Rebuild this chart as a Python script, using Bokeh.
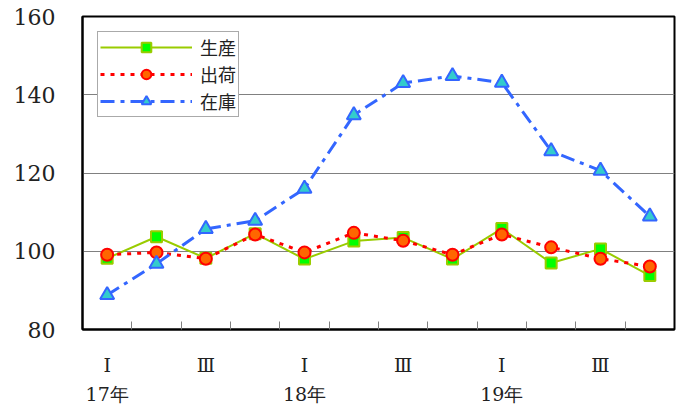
from bokeh.plotting import figure
from bokeh.models import Range1d, FixedTicker
from bokeh.embed import file_html
from bokeh.resources import INLINE

# ---- data ----
quarters = ["Ⅰ", "Ⅱ", "Ⅲ", "Ⅳ", "Ⅰ", "Ⅱ", "Ⅲ", "Ⅳ", "Ⅰ", "Ⅱ", "Ⅲ", "Ⅳ"]
years = ["17年", "", "", "", "18年", "", "", "", "19年", "", "", ""]
production = [98.2, 103.7, 98.2, 104.5, 98.0, 102.6, 103.5, 98.0, 105.8, 97.0, 100.6, 93.8]
shipments = [99.1, 99.7, 98.1, 104.3, 99.7, 104.7, 102.7, 99.1, 104.3, 101.0, 98.1, 96.1]
inventory = [88.8, 96.8, 105.7, 107.8, 116.0, 134.8, 143.0, 144.8, 143.1, 125.6, 120.6, 108.9]
y_ticks = [80, 100, 120, 140, 160]
shown_quarters = ["Ⅰ", "Ⅲ"]

x = list(range(1, len(quarters) + 1))
labels = {}
for i, (q, yr) in enumerate(zip(quarters, years)):
    if q in shown_quarters:
        labels[x[i]] = q + ("\n" + yr if yr else "")
    else:
        labels[x[i]] = ""
boundaries = [v + 0.5 for v in x[:-1]]

serif = "DejaVu Serif"

p = figure(width=676, height=408, output_backend="svg", toolbar_location=None,
           x_range=Range1d(0.5, len(x) + 0.5), y_range=Range1d(80, 160),
           min_border_left=82, min_border_top=16, min_border_right=2, min_border_bottom=76)

p.background_fill_color = "white"
p.outline_line_color = "black"
p.outline_line_width = 2

# axes
p.xaxis.ticker = FixedTicker(ticks=x, minor_ticks=boundaries)
p.xaxis.major_label_overrides = labels
p.xaxis.major_tick_in = 0
p.xaxis.major_tick_out = 0
p.xaxis.minor_tick_in = 8
p.xaxis.minor_tick_out = 0
p.xaxis.minor_tick_line_color = "#808080"
p.xaxis.minor_tick_line_width = 1
p.xaxis.axis_line_color = "black"
p.xaxis.axis_line_width = 2
p.xaxis.major_label_text_font = serif
p.xaxis.major_label_text_font_size = "19px"
p.xaxis.major_label_text_line_height = 1.35
p.xaxis.major_label_text_color = "#222222"
p.xaxis.major_label_standoff = 24

p.yaxis.ticker = FixedTicker(ticks=y_ticks)
p.yaxis.major_tick_in = 0
p.yaxis.major_tick_out = 0
p.yaxis.minor_tick_line_color = None
p.yaxis.axis_line_color = "black"
p.yaxis.axis_line_width = 2
p.yaxis.major_label_text_font = serif
p.yaxis.major_label_text_font_size = "22px"
p.yaxis.major_label_text_color = "#222222"
p.yaxis.major_label_standoff = 27

p.xgrid.grid_line_color = None
p.ygrid.grid_line_color = "#808080"
p.ygrid.grid_line_width = 1

# series
p.line(x, production, line_color="#99CC00", line_width=2, legend_label="生産")
p.scatter(x, production, marker="square", size=11, fill_color="#00FF00",
          line_color="#99CC00", line_width=2, legend_label="生産")

p.line(x, shipments, line_color="#FF0000", line_width=3, line_dash="4 6", legend_label="出荷")
p.scatter(x, shipments, marker="circle", size=12, fill_color="#FF6600",
          line_color="#FF0000", line_width=2, legend_label="出荷")

p.line(x, inventory, line_color="#3366FF", line_width=3, line_dash="14 6 4 6", legend_label="在庫")
p.scatter(x, inventory, marker="triangle", size=14, fill_color="#33CCCC",
          line_color="#3366FF", line_width=2, legend_label="在庫")

lg = p.legend[0]
lg.location = "top_left"
lg.margin = 15
lg.padding = 2
lg.spacing = 1
lg.glyph_width = 92
lg.glyph_height = 24
lg.label_height = 24
lg.label_standoff = 8
lg.label_text_font = "Noto Sans CJK JP"
lg.label_text_font_size = "18px"
lg.label_text_color = "#222222"
lg.border_line_color = "#555555"
lg.border_line_width = 1
lg.background_fill_alpha = 1.0

open("out.html", "w").write(file_html(p, INLINE))
